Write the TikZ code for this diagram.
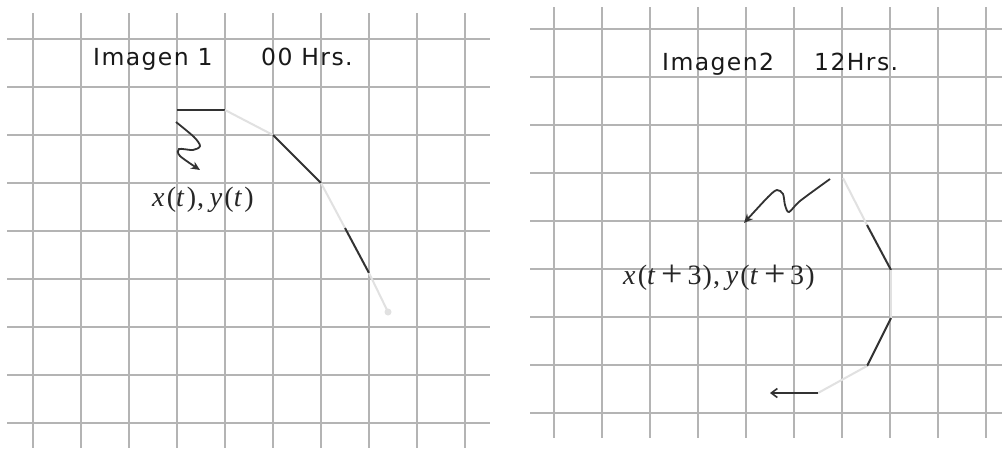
\documentclass[tikz,border=0pt]{standalone}
\usepackage{fontspec}
\newfontfamily\verd[LetterSpace=6]{DejaVu Sans}
\newfontfamily\tms[LetterSpace=4]{Liberation Serif}
\usetikzlibrary{arrows.meta}
\definecolor{gridc}{RGB}{180,180,180}
\definecolor{darkc}{RGB}{50,50,50}
\definecolor{lightc}{RGB}{225,225,225}
\newcommand{\vi}[1]{\textit{#1}\kern0.04em}
\newcommand{\pls}{\kern0.15em\raisebox{-2.5pt}{\fontsize{38}{38}\selectfont+}\kern0.15em}
\begin{document}
\begin{tikzpicture}[x=1pt,y=-1pt,
  gridline/.style={gridc, line width=1.5pt},
  darkseg/.style={darkc, line width=2pt},
  lightseg/.style={lightc, line width=2pt},
  title/.style={font=\verd\fontsize{23.5}{27}\selectfont, anchor=base west, inner sep=0pt, text=black!90},
  formula/.style={font=\tms\fontsize{28}{32}\selectfont, anchor=base west, inner sep=0pt, text=black!85},
  squig/.style={darkc, line width=1.8pt, -{Stealth[length=9pt,width=8pt]}},
  plainarrow/.style={darkc, line width=1.6pt, -{Straight Barb[length=6pt,width=9pt]}}]
\useasboundingbox (0,0) rectangle (1002,448);
\fill[white] (0,0) rectangle (1002,448);
% left grid
\foreach \k in {0,...,9} \draw[gridline] ({33+48*\k},13) -- ({33+48*\k},448);
\foreach \k in {0,...,8} \draw[gridline] (7,{39+48*\k}) -- (490,{39+48*\k});
% right grid
\foreach \k in {0,...,9} \draw[gridline] ({554+48*\k},7) -- ({554+48*\k},438);
\foreach \k in {0,...,8} \draw[gridline] (530,{29+48*\k}) -- (1002,{29+48*\k});
% titles
\node[title] (t1a) at (93,65) {Imagen 1};
\node[title] (t1b) at (261,65) {00 Hrs.};
\node[title] (t2a) at (662,70) {Imagen2};
\node[title] (t2b) at (814,70) {12Hrs.};
% formulas
\node[formula] (f1) at (152,206) {\vi{x}(\vi{t}),\kern0.2em\vi{y}(\vi{t})};
\node[formula] (f2) at (623,284) {\vi{x}(\vi{t}\pls3),\kern0.2em\vi{y}(\vi{t}\pls3)};
% left path
\coordinate (a0) at (177,110);
\coordinate (a1) at (225,110);
\coordinate (a2) at (273,135);
\coordinate (a3) at (321,183);
\coordinate (a4) at (345,228);
\coordinate (a5) at (369,273);
\coordinate (a6) at (388,312);
\draw[darkseg] (a0) -- (a1);
\draw[lightseg] (a1) -- (a2);
\draw[darkseg] (a2) -- (a3);
\draw[lightseg] (a3) -- (a4);
\draw[darkseg] (a4) -- (a5);
\draw[lightseg] (a5) -- (a6);
\fill[lightc] (a6) circle (3.5);
% left squiggle
\draw[squig] plot[smooth, tension=0.5] coordinates {(176,122) (194,137) (200,146) (193,150) (179,149) (180,156) (200,170)};
% right path
\coordinate (b0) at (843,178);
\coordinate (b1) at (867,225);
\coordinate (b2) at (891,270);
\coordinate (b3) at (891,318);
\coordinate (b4) at (867,366);
\coordinate (b5) at (818,393);
\coordinate (b6) at (770,393);
\draw[lightseg] (b0) -- (b1);
\draw[darkseg] (b1) -- (b2);
\draw[lightseg] (b2) -- (b3);
\draw[darkseg] (b3) -- (b4);
\draw[lightseg] (b4) -- (b5);
\draw[plainarrow] (b5) -- (b6);
% right squiggle
\draw[squig] plot[smooth, tension=0.5] coordinates {(830,179) (800,201) (789,212) (785,205) (783,194) (777,190) (768,197) (744,223)};
\end{tikzpicture}
\end{document}
